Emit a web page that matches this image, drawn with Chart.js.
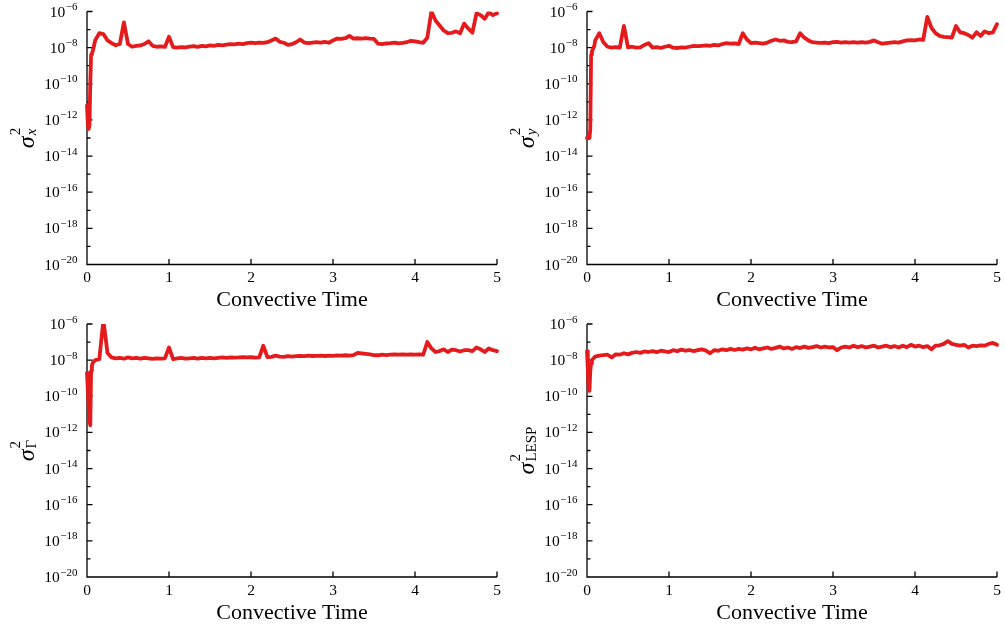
<!DOCTYPE html>
<html>
<head>
<meta charset="utf-8">
<script src="https://cdn.jsdelivr.net/npm/chart.js@4.4.0/dist/chart.umd.min.js"></script>
<style>
  html, body { margin: 0; padding: 0; background: #fff; width: 1005px; height: 629px; overflow: hidden; }
  canvas { position: absolute; left: 0; top: 0; }
</style>
</head>
<body>
<canvas id="sx" width="1005" height="629"></canvas>
<canvas id="sy" width="1005" height="629"></canvas>
<canvas id="sg" width="1005" height="629"></canvas>
<canvas id="sl" width="1005" height="629"></canvas>
<script>
// convective time samples (dense at the start, then every 0.05)
const times = [
  0, 0.01, 0.02, 0.03, 0.04, 0.05, 0.06, 0.07, 0.08, 0.09, 0.1,
  0.15, 0.2, 0.25, 0.3, 0.35, 0.4, 0.45, 0.5, 0.55, 0.6,
  0.65, 0.7, 0.75, 0.8, 0.85, 0.9, 0.95, 1.0, 1.05, 1.1,
  1.15, 1.2, 1.25, 1.3, 1.35, 1.4, 1.45, 1.5, 1.55, 1.6,
  1.65, 1.7, 1.75, 1.8, 1.85, 1.9, 1.95, 2.0, 2.05, 2.1,
  2.15, 2.2, 2.25, 2.3, 2.35, 2.4, 2.45, 2.5, 2.55, 2.6,
  2.65, 2.7, 2.75, 2.8, 2.85, 2.9, 2.95, 3.0, 3.05, 3.1,
  3.15, 3.2, 3.25, 3.3, 3.35, 3.4, 3.45, 3.5, 3.55, 3.6,
  3.65, 3.7, 3.75, 3.8, 3.85, 3.9, 3.95, 4.0, 4.05, 4.1,
  4.15, 4.2, 4.25, 4.3, 4.35, 4.4, 4.45, 4.5, 4.55, 4.6,
  4.65, 4.7, 4.75, 4.8, 4.85, 4.9, 4.95, 5.0
];

// log10 of each variance
const sigmaXLog = [
  -11.2, -12.2, -12.5, -12.3, -10.0, -8.4, -8.3, -8.2, -8.0, -7.8, -7.6,
  -7.2, -7.25, -7.6, -7.75, -7.87, -7.8, -6.6, -7.8, -7.95, -7.9,
  -7.88, -7.8, -7.65, -7.9, -7.95, -7.93, -7.96, -7.4, -7.97, -8.0,
  -7.97, -7.98, -7.95, -7.92, -7.96, -7.9, -7.93, -7.88, -7.9, -7.85,
  -7.88, -7.83, -7.8, -7.82, -7.78, -7.8, -7.75, -7.72, -7.75, -7.72,
  -7.74, -7.7, -7.6, -7.5, -7.68, -7.73, -7.85, -7.8, -7.7, -7.55,
  -7.72, -7.75, -7.72, -7.7, -7.72, -7.68, -7.73, -7.6, -7.5, -7.52,
  -7.48, -7.35, -7.5, -7.48, -7.5, -7.47, -7.5, -7.52, -7.78, -7.8,
  -7.77, -7.75, -7.72, -7.76, -7.74, -7.7, -7.62, -7.65, -7.7, -7.73,
  -7.45, -6.0, -6.5, -6.77, -7.05, -7.2, -7.18, -7.1, -7.2, -6.67,
  -6.95, -7.17, -6.1, -6.2, -6.4, -6.05, -6.2, -6.1
];
const sigmaYLog = [
  -13.0, -13.0, -13.0, -13.0, -12.5, -8.4, -8.2, -8.1, -8.0, -7.9, -7.6,
  -7.2, -7.7, -7.95, -8.0, -7.97, -8.0, -6.8, -7.98, -7.95, -8.0,
  -7.98, -7.85, -7.75, -8.0, -7.97, -8.02, -7.95, -7.9, -8.0, -8.02,
  -7.98, -8.0, -7.95, -7.9, -7.92, -7.9, -7.88, -7.9, -7.85, -7.88,
  -7.8, -7.75, -7.78, -7.76, -7.8, -7.2, -7.55, -7.75, -7.72, -7.75,
  -7.78, -7.72, -7.62, -7.55, -7.62, -7.6, -7.68, -7.7, -7.65, -7.2,
  -7.45, -7.6, -7.7, -7.72, -7.74, -7.72, -7.75, -7.7, -7.68, -7.72,
  -7.7, -7.72, -7.7, -7.72, -7.7, -7.72, -7.68, -7.6, -7.7, -7.78,
  -7.75, -7.72, -7.7, -7.72, -7.65, -7.6, -7.58, -7.6, -7.55, -7.57,
  -6.3, -6.9, -7.2, -7.35, -7.4, -7.42, -7.45, -6.8, -7.15, -7.2,
  -7.3, -7.45, -7.15, -7.35, -7.1, -7.2, -7.15, -6.7
];
const sigmaGammaLog = [
  -8.7, -9.6, -10.6, -11.4, -11.6, -8.6, -8.3, -8.15, -8.1, -8.05, -8.0,
  -7.95, -5.8, -7.6, -7.85, -7.9, -7.88, -7.92, -7.85, -7.9, -7.88,
  -7.92, -7.87, -7.9, -7.93, -7.9, -7.92, -7.9, -7.3, -7.95, -7.9,
  -7.88, -7.92, -7.9, -7.88, -7.92, -7.87, -7.9, -7.88, -7.9, -7.87,
  -7.85, -7.88, -7.85, -7.86, -7.85, -7.83, -7.85, -7.84, -7.86, -7.85,
  -7.2, -7.83, -7.82, -7.75, -7.8, -7.82, -7.78, -7.8, -7.78, -7.76,
  -7.78, -7.75, -7.77, -7.76, -7.75, -7.77, -7.75, -7.76, -7.74, -7.75,
  -7.73, -7.75, -7.72, -7.6, -7.62, -7.65, -7.68, -7.72, -7.73, -7.7,
  -7.72, -7.7, -7.68, -7.7, -7.68, -7.7, -7.68, -7.7, -7.68, -7.7,
  -7.0, -7.35, -7.55, -7.5, -7.4, -7.55, -7.42, -7.45, -7.52, -7.45,
  -7.45, -7.5, -7.3, -7.4, -7.55, -7.35, -7.45, -7.5
];
const sigmaLespLog = [
  -7.5, -8.5, -9.6, -9.7, -8.6, -8.2, -8.0, -7.95, -7.9, -7.85, -7.8,
  -7.75, -7.72, -7.7, -7.85, -7.68, -7.7, -7.62, -7.68, -7.6, -7.55,
  -7.6, -7.52, -7.55, -7.5, -7.56, -7.48, -7.52, -7.55, -7.45, -7.5,
  -7.42, -7.48, -7.44, -7.5, -7.45, -7.4, -7.47, -7.62, -7.45, -7.48,
  -7.4, -7.45, -7.38, -7.44, -7.38, -7.42, -7.35, -7.4, -7.32, -7.4,
  -7.35, -7.3, -7.38, -7.32, -7.25, -7.35, -7.3, -7.38, -7.28, -7.33,
  -7.25, -7.32, -7.28, -7.22, -7.3, -7.25, -7.3, -7.28, -7.45, -7.3,
  -7.25, -7.3, -7.2, -7.28, -7.22, -7.3, -7.25, -7.2, -7.3, -7.25,
  -7.2, -7.28, -7.22, -7.3, -7.2, -7.28, -7.15, -7.25, -7.2, -7.28,
  -7.22, -7.4, -7.2, -7.18, -7.1, -6.95, -7.1, -7.15, -7.2, -7.15,
  -7.3, -7.2, -7.22, -7.18, -7.2, -7.1, -7.05, -7.15
];

const xTicks = [0, 1, 2, 3, 4, 5];
const yDecades = [-20, -19, -18, -17, -16, -15, -14, -13, -12, -11, -10, -9, -8, -7, -6];
const yLabelDecades = [-20, -18, -16, -14, -12, -10, -8, -6];
const xTitle = 'Convective Time';

const W = 1005, H = 629;
const RED = '#e41a1c';
const SERIF = "'Liberation Serif', 'DejaVu Serif', serif";

const panels = [
  { id: 'sx', values: sigmaXLog, sub: 'x', subItalic: true, area: { left: 87, top: 11.5, right: 497, bottom: 264.5 } },
  { id: 'sy', values: sigmaYLog, sub: 'y', subItalic: true, area: { left: 587, top: 11.5, right: 997, bottom: 264.5 } },
  { id: 'sg', values: sigmaGammaLog, sub: 'Γ', subItalic: false, area: { left: 87, top: 324, right: 497, bottom: 577 } },
  { id: 'sl', values: sigmaLespLog, sub: 'LESP', subItalic: false, area: { left: 587, top: 324, right: 997, bottom: 577 } }
];

function framePlugin(panel) {
  return {
    id: 'frame',
    beforeDatasetsDraw(chart) {
      const { ctx, chartArea: a, scales: { x, y } } = chart;
      ctx.save();
      ctx.strokeStyle = '#000';
      ctx.lineWidth = 1.3;
      ctx.beginPath();
      ctx.moveTo(a.left, a.top);
      ctx.lineTo(a.left, a.bottom);
      ctx.lineTo(a.right, a.bottom);
      // ticks point inward
      y.ticks.forEach(t => {
        const e = Math.round(Math.log10(t.value));
        const py = y.getPixelForValue(t.value);
        ctx.moveTo(a.left, py);
        ctx.lineTo(a.left + (e % 2 === 0 ? 5.5 : 3.5), py);
      });
      x.ticks.forEach(t => {
        const px = x.getPixelForValue(t.value);
        ctx.moveTo(px, a.bottom);
        ctx.lineTo(px, a.bottom - 5.5);
      });
      ctx.stroke();
      ctx.restore();
    },
    afterDraw(chart) {
      const { ctx, chartArea: a, scales: { x, y } } = chart;
      ctx.save();
      ctx.fillStyle = '#000';
      ctx.textBaseline = 'alphabetic';

      // y tick labels: 10 with a superscript exponent
      ctx.textAlign = 'right';
      y.ticks.forEach(t => {
        const e = Math.round(Math.log10(t.value));
        if (!yLabelDecades.includes(e)) return;
        const py = y.getPixelForValue(t.value);
        const sup = '\u2212' + Math.abs(e);
        const right = a.left - 9.5;
        ctx.font = `11px ${SERIF}`;
        const ws = ctx.measureText(sup).width;
        ctx.fillText(sup, right, py - 1.5);
        ctx.font = `15.5px ${SERIF}`;
        ctx.fillText('10', right - ws - 0.5, py + 5);
      });

      // x tick labels + title
      ctx.textAlign = 'center';
      ctx.font = `15.5px ${SERIF}`;
      x.ticks.forEach(t => ctx.fillText(String(t.value), x.getPixelForValue(t.value), a.bottom + 17.5));
      ctx.font = `22px ${SERIF}`;
      ctx.fillText(xTitle, (a.left + a.right) / 2, a.bottom + 41.5);

      // rotated y title: sigma^2 with subscript
      ctx.translate(a.left - 53.5, (a.top + a.bottom) / 2);
      ctx.rotate(-Math.PI / 2);
      ctx.textAlign = 'left';
      const sigFont = `italic 24px ${SERIF}`;
      const supFont = `15px ${SERIF}`;
      const subFont = `${panel.subItalic ? 'italic ' : ''}15px ${SERIF}`;
      ctx.font = sigFont; const wSig = ctx.measureText('σ').width;
      ctx.font = supFont; const wSup = ctx.measureText('2').width;
      ctx.font = subFont; const wSub = ctx.measureText(panel.sub).width;
      const x0 = -(wSig + 1 + Math.max(wSup, wSub)) / 2;
      ctx.font = sigFont; ctx.fillText('σ', x0, 0);
      ctx.font = supFont; ctx.fillText('2', x0 + wSig + 1, -14);
      ctx.font = subFont; ctx.fillText(panel.sub, x0 + wSig + 1, 2);
      ctx.restore();
    }
  };
}

panels.forEach(panel => {
  const a = panel.area;
  new Chart(document.getElementById(panel.id), {
    type: 'line',
    data: {
      datasets: [{
        data: times.map((t, i) => ({ x: t, y: Math.pow(10, panel.values[i]) })),
        borderColor: RED,
        borderWidth: 3.8,
        borderJoinStyle: 'round',
        borderCapStyle: 'round',
        pointRadius: 0,
        tension: 0,
        fill: false,
        clip: { left: 3, top: 0, right: 3, bottom: 0 }
      }]
    },
    options: {
      responsive: false,
      animation: false,
      events: [],
      layout: { padding: { left: a.left, top: a.top, right: W - a.right, bottom: H - a.bottom } },
      plugins: { legend: { display: false }, tooltip: { enabled: false } },
      scales: {
        x: {
          type: 'linear', min: 0, max: 5,
          grid: { display: false }, border: { display: false }, ticks: { display: false },
          afterBuildTicks: s => { s.ticks = xTicks.map(v => ({ value: v })); },
          afterFit: s => { s.height = 0; }
        },
        y: {
          type: 'logarithmic', min: 1e-20, max: 1e-6,
          grid: { display: false }, border: { display: false }, ticks: { display: false },
          afterBuildTicks: s => { s.ticks = yDecades.map(e => ({ value: Math.pow(10, e) })); },
          afterFit: s => { s.width = 0; }
        }
      }
    },
    plugins: [framePlugin(panel)]
  });
});
</script>
</body>
</html>
